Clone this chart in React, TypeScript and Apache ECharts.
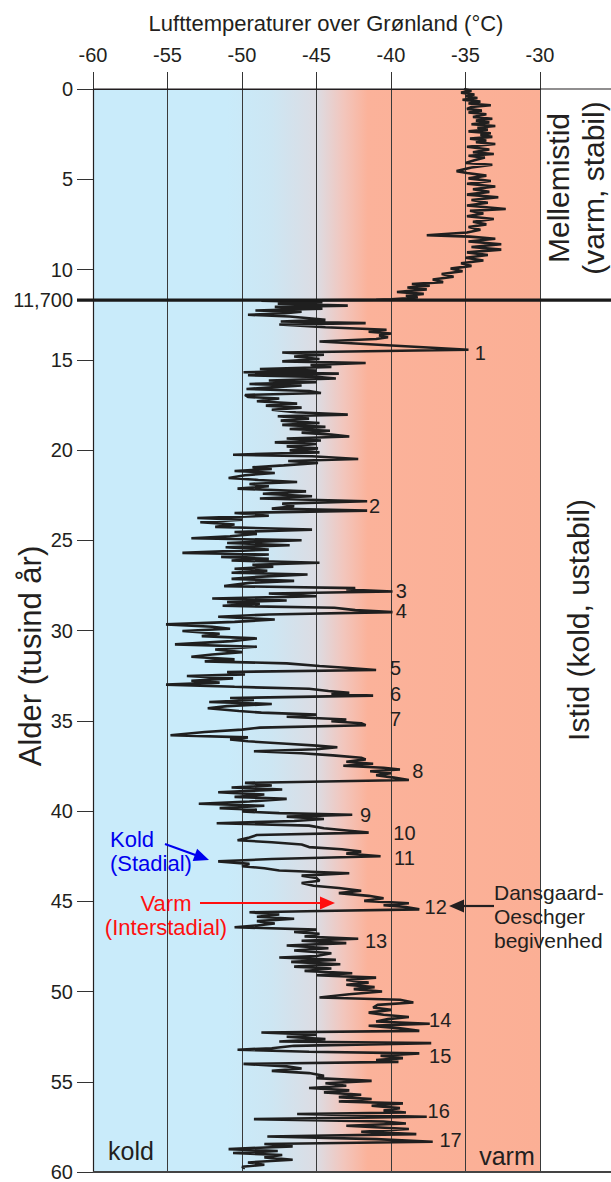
import React, { useEffect, useRef } from "react";
import * as echarts from "echarts";

// ---------- DATA (age in thousand years, temperature in °C) ----------
const xTickValues = [-60, -55, -50, -45, -40, -35, -30];
const yTickValues = [0, 5, 10, 15, 20, 25, 30, 35, 40, 45, 50, 55, 60];
const boundaryAge = 11.7;
const boundaryLabel = "11,700";

const holocene: [number, number][] = [
  [0.0, -35.1], [0.1, -34.6], [0.2, -35.3], [0.3, -34.4], [0.4, -35.0], [0.5, -34.2], [0.6, -35.2], [0.7, -34.0],
  [0.8, -34.8], [0.9, -33.3], [1.0, -34.6], [1.1, -34.9], [1.2, -33.9], [1.3, -34.8], [1.4, -33.6], [1.55, -34.5],
  [1.65, -33.2], [1.75, -34.3], [1.85, -33.4], [1.95, -34.6], [2.05, -33.0], [2.15, -34.2], [2.25, -33.5], [2.35, -34.8],
  [2.45, -33.3], [2.55, -34.0], [2.65, -33.2], [2.75, -34.7], [2.85, -33.6], [2.95, -34.3], [3.05, -33.0], [3.2, -34.9],
  [3.35, -33.4], [3.5, -34.5], [3.6, -33.1], [3.7, -34.8], [3.8, -33.7], [3.95, -34.4], [4.1, -35.0], [4.2, -33.2],
  [4.35, -34.6], [4.55, -35.6], [4.65, -34.9], [4.8, -33.6], [4.95, -34.8], [5.1, -33.3], [5.25, -34.9], [5.4, -33.0],
  [5.55, -34.5], [5.7, -33.4], [5.85, -34.9], [6.0, -32.8], [6.15, -34.6], [6.3, -33.5], [6.45, -34.9], [6.65, -32.3],
  [6.75, -34.7], [6.9, -33.8], [7.05, -34.9], [7.2, -33.1], [7.35, -34.5], [7.5, -33.6], [7.65, -34.8], [7.8, -34.0],
  [7.95, -34.9], [8.1, -37.6], [8.18, -34.7], [8.3, -33.0], [8.45, -34.8], [8.6, -32.6], [8.75, -34.6], [8.9, -32.6],
  [9.05, -34.9], [9.2, -33.5], [9.35, -35.0], [9.5, -33.8], [9.65, -35.3], [9.8, -34.6], [9.95, -36.0], [10.1, -35.2],
  [10.25, -36.6], [10.4, -35.8], [10.55, -37.2], [10.7, -36.5], [10.8, -38.6], [10.9, -37.4], [11.0, -38.9], [11.1, -37.6],
  [11.25, -39.6], [11.35, -37.8], [11.45, -39.0], [11.55, -38.2], [11.65, -40.0],
];

const deglacial: [number, number][] = [
  [11.68, -41.0], [11.73, -48.7], [11.81, -44.6], [11.9, -47.6], [12.0, -42.9], [12.07, -47.8], [12.17, -44.6], [12.27, -49.1],
  [12.34, -46.0], [12.42, -47.1], [12.51, -49.6], [12.6, -46.8], [12.7, -45.5], [12.79, -44.4], [12.88, -47.4], [12.97, -41.7],
  [13.05, -47.5], [13.2, -44.4], [13.34, -40.3], [13.45, -41.5], [13.55, -40.0], [13.65, -40.8], [13.75, -40.2], [13.85, -41.0],
  [13.99, -44.8], [14.45, -34.8], [14.6, -47.3], [14.72, -44.5], [14.82, -46.5], [14.96, -44.8], [15.09, -47.3], [15.18, -41.7],
  [15.29, -45.4], [15.4, -44.0], [15.51, -48.8], [15.6, -45.0], [15.69, -49.9], [15.77, -43.5], [15.86, -49.6], [15.95, -45.0],
  [16.04, -43.7], [16.15, -48.2], [16.25, -45.0], [16.34, -49.5], [16.43, -46.0], [16.53, -48.0], [16.62, -49.7], [16.73, -45.5],
  [16.84, -44.7], [16.95, -49.8], [17.06, -49.6], [17.15, -47.5], [17.3, -49.0], [17.43, -46.3], [17.54, -48.4], [17.65, -46.0],
  [17.77, -48.0], [17.91, -46.4], [18.04, -42.9], [18.13, -47.6], [18.26, -45.5], [18.37, -47.4], [18.5, -44.8], [18.61, -47.3],
  [18.72, -44.4], [18.84, -46.8], [18.93, -44.1], [19.04, -46.0], [19.15, -44.0], [19.25, -42.8], [19.36, -47.0], [19.47, -44.7],
  [19.58, -47.8], [19.67, -45.0], [19.8, -47.0], [19.91, -44.9], [20.02, -46.8], [20.13, -44.8], [20.26, -50.6], [20.35, -45.3],
  [20.5, -42.2], [20.61, -46.9], [20.72, -44.9], [20.85, -47.2], [20.96, -49.3], [21.05, -48.0], [21.16, -50.5], [21.27, -47.8],
  [21.4, -49.8], [21.55, -50.9], [21.66, -48.9], [21.77, -46.3], [21.88, -49.5], [22.01, -48.2], [22.14, -50.3], [22.29, -45.7],
  [22.42, -48.6], [22.56, -45.3], [22.69, -48.8], [22.84, -41.6], [22.97, -47.3], [23.12, -46.5], [23.25, -48.0], [23.36, -41.6],
  [23.49, -50.5], [23.64, -48.2], [23.77, -53.0], [23.86, -50.0], [24.0, -52.8], [24.13, -50.5], [24.26, -51.8], [24.41, -45.3],
  [24.54, -50.5], [24.65, -49.0], [24.78, -50.8], [24.89, -53.4], [25.0, -46.0], [25.15, -51.0], [25.28, -46.8], [25.39, -51.1],
  [25.52, -48.2],
];

const glacialMid: [number, number][] = [
  [25.7, -54.0], [25.79, -48.2], [25.92, -51.4], [26.03, -48.2], [26.12, -50.7], [26.25, -44.8], [26.36, -49.3], [26.47, -47.9],
  [26.58, -50.5], [26.69, -48.3], [26.8, -50.7], [26.9, -45.6], [27.03, -49.0], [27.14, -50.7], [27.25, -46.5], [27.36, -49.5],
  [27.54, -51.2], [27.65, -42.4], [27.73, -43.0], [27.84, -39.9], [27.95, -48.2], [28.1, -45.0], [28.23, -52.0], [28.34, -47.0],
  [28.43, -51.0], [28.52, -48.8], [28.63, -51.3], [28.74, -43.8], [28.87, -42.4], [28.98, -39.9], [29.11, -48.2], [29.24, -51.6],
  [29.39, -47.8], [29.52, -50.5], [29.66, -55.1], [29.79, -52.0], [29.9, -50.8], [30.03, -54.0], [30.18, -51.5], [30.31, -52.7],
  [30.44, -49.0], [30.59, -50.7], [30.77, -54.5], [30.9, -49.0], [31.05, -51.8], [31.2, -50.0], [31.33, -52.0], [31.45, -53.4],
  [31.6, -50.5], [31.71, -52.5], [31.82, -47.0], [31.97, -44.8], [32.08, -42.8], [32.19, -41.0], [32.3, -51.0], [32.43, -49.8],
  [32.52, -53.7], [32.65, -50.6], [32.78, -53.4], [32.89, -51.5], [33.0, -55.1], [33.12, -50.5], [33.23, -45.5], [33.35, -44.2],
  [33.45, -42.8], [33.52, -44.0], [33.61, -41.2], [33.74, -50.8], [33.85, -49.2], [33.96, -52.2], [34.07, -48.0], [34.19, -51.0],
  [34.31, -52.3], [34.46, -50.2], [34.55, -48.7], [34.66, -45.0], [34.78, -47.0], [34.93, -43.0], [35.03, -44.0], [35.14, -42.0],
  [35.25, -41.7], [35.38, -48.8], [35.49, -50.0], [35.62, -52.5], [35.8, -54.8], [35.92, -49.6], [36.03, -50.8], [36.14, -49.6],
  [36.27, -47.0], [36.38, -45.0], [36.47, -43.6], [36.58, -45.0], [36.69, -49.2], [36.8, -46.0], [36.92, -43.9], [37.05, -42.0],
  [37.14, -41.7], [37.27, -43.0], [37.38, -41.2], [37.49, -43.2], [37.6, -40.5], [37.7, -39.4], [37.8, -41.4], [37.91, -40.0],
  [38.02, -41.0], [38.15, -39.8], [38.28, -38.8],
];

const glacialLate: [number, number][] = [
  [38.44, -49.8], [38.59, -48.0], [38.7, -50.7], [38.81, -47.3], [38.96, -51.6], [39.09, -48.5], [39.22, -50.5], [39.33, -47.0],
  [39.47, -49.5], [39.6, -52.9], [39.71, -48.5], [39.84, -51.5], [39.93, -49.0], [40.03, -50.0], [40.12, -47.5], [40.21, -42.6],
  [40.31, -47.0], [40.44, -44.5], [40.55, -46.5], [40.68, -51.7], [40.81, -45.5], [40.96, -44.5], [41.09, -42.8], [41.2, -41.5],
  [41.33, -49.0], [41.47, -49.5], [41.62, -50.3], [41.73, -48.0], [41.86, -46.0], [42.0, -45.5], [42.12, -43.3], [42.25, -42.0],
  [42.36, -43.0], [42.51, -40.7], [42.66, -48.0], [42.79, -51.6], [42.93, -49.5], [43.06, -50.0], [43.17, -48.5], [43.3, -47.5],
  [43.45, -42.8], [43.58, -46.0], [43.71, -45.0], [43.86, -44.8], [43.99, -46.0], [44.14, -45.2], [44.27, -43.5], [44.42, -42.0],
  [44.55, -43.5], [44.7, -41.5], [44.83, -40.5], [44.98, -41.8], [45.11, -38.8], [45.22, -40.5], [45.32, -39.0], [45.45, -38.1],
  [45.54, -44.8], [45.61, -49.5], [45.73, -47.5], [45.86, -49.0], [45.97, -46.5], [46.1, -49.0], [46.23, -47.8], [46.34, -49.0],
  [46.44, -50.5], [46.57, -45.0], [46.7, -46.5], [46.81, -44.8], [46.95, -45.8], [47.08, -42.2], [47.19, -46.0], [47.32, -43.0],
  [47.45, -47.0], [47.6, -44.2], [47.73, -46.5], [47.88, -44.0],
];

const glacialEarly: [number, number][] = [
  [48.03, -45.0], [48.12, -47.5], [48.25, -43.7], [48.36, -46.7], [48.49, -43.4], [48.62, -46.5], [48.73, -44.0], [48.86, -45.8],
  [48.99, -42.6], [49.1, -45.0], [49.23, -41.0], [49.36, -43.0], [49.51, -41.5], [49.63, -43.0], [49.76, -41.1], [49.87, -42.5],
  [50.0, -40.6], [50.15, -42.8], [50.33, -44.8], [50.46, -39.4], [50.61, -38.5], [50.74, -40.9], [50.89, -41.2], [51.02, -40.0],
  [51.17, -41.5], [51.29, -40.5], [51.41, -38.8], [51.53, -40.2], [51.66, -41.0], [51.79, -37.4], [51.9, -41.5], [52.03, -39.5],
  [52.18, -38.1], [52.27, -48.7], [52.4, -45.0], [52.51, -47.0], [52.64, -44.4], [52.77, -47.5], [52.86, -37.3], [53.01, -46.5],
  [53.14, -48.0], [53.23, -50.3], [53.34, -45.5], [53.43, -38.1], [53.56, -40.7], [53.69, -39.2], [53.8, -41.0], [53.9, -39.5],
  [54.01, -49.9], [54.15, -47.0], [54.27, -46.0], [54.4, -48.0], [54.52, -45.5], [54.67, -44.5], [54.8, -45.0], [54.95, -41.3],
  [55.08, -44.4], [55.22, -43.0], [55.35, -45.5], [55.48, -42.8], [55.59, -44.5], [55.72, -42.0], [55.85, -43.5], [55.96, -41.3],
  [56.09, -43.5], [56.2, -39.2], [56.33, -41.3], [56.46, -39.4], [56.59, -40.5], [56.7, -39.0], [56.79, -46.3], [56.94, -37.6],
  [57.07, -49.2], [57.2, -40.5], [57.31, -39.0], [57.44, -43.0], [57.62, -38.8], [57.77, -42.0], [57.9, -38.3], [58.03, -48.3],
  [58.18, -41.0], [58.32, -37.2], [58.45, -48.5], [58.58, -46.6], [58.73, -50.9], [58.84, -47.6], [58.95, -50.6], [59.06, -47.3],
  [59.19, -48.5], [59.32, -46.6], [59.47, -49.6], [59.6, -48.5], [59.71, -50.0], [59.8, -49.8],
];

// Dansgaard-Oeschger event numbers and where their labels sit (temp, age)
const eventNumbers = ["1", "2", "3", "4", "5", "6", "7", "8", "9", "10", "11", "12", "13", "14", "15", "16", "17"];
const eventLabelTemps = [-34.0, -41.1, -39.3, -39.3, -39.7, -39.7, -39.7, -38.2, -41.7, -39.1, -39.1, -37.0, -41.0, -36.7, -36.7, -36.8, -36.0];
const eventLabelAges = [14.6, 23.1, 27.8, 28.9, 32.1, 33.5, 34.9, 37.8, 40.2, 41.2, 42.6, 45.3, 47.2, 51.6, 53.6, 56.6, 58.2];

const FONT = '"Liberation Sans", Arial, Helvetica, sans-serif';
const INK = "#231f20";

function arrow(x1: number, y1: number, x2: number, y2: number, color: string) {
  const dx = x2 - x1, dy = y2 - y1;
  const len = Math.hypot(dx, dy);
  const ux = dx / len, uy = dy / len;
  const hl = 15, hw = 6.5;
  const bx = x2 - ux * hl, by = y2 - uy * hl;
  return [
    { type: "line", z: 100, shape: { x1, y1, x2: bx + ux * 2, y2: by + uy * 2 }, style: { stroke: color, lineWidth: 2.2 } },
    {
      type: "polygon", z: 100,
      shape: { points: [[x2, y2], [bx - uy * hw, by + ux * hw], [bx + uy * hw, by - ux * hw]] },
      style: { fill: color },
    },
  ];
}

export default function App() {
  const ref = useRef<HTMLDivElement>(null);

  useEffect(() => {
    document.body.style.margin = "0";
    const chart = echarts.init(ref.current!, null, { renderer: "svg" });
    const all = [...holocene, ...deglacial, ...glacialMid, ...glacialLate, ...glacialEarly];
    const lineData = all.map(([age, temp]) => [temp, age]);

    const bg = new echarts.graphic.LinearGradient(0, 0, 1, 0, [
      { offset: 0, color: "#c9ebfa" },
      { offset: 0.3, color: "#c9ebfa" },
      { offset: 0.4, color: "#cde6f3" },
      { offset: 0.5, color: "#dcdce3" },
      { offset: 0.56, color: "#f2c6bd" },
      { offset: 0.615, color: "#fbb29a" },
      { offset: 1, color: "#fbaf95" },
    ]);

    chart.setOption({
      animation: false,
      textStyle: { fontFamily: FONT },
      grid: {
        left: 93, top: 89, right: 71, bottom: 9,
        show: true, backgroundColor: bg, borderWidth: 0,
      },
      xAxis: {
        type: "value", position: "top", min: -60, max: -30, interval: 5,
        axisLine: { show: true, lineStyle: { color: INK, width: 1.2 } },
        axisTick: { show: true, inside: false, length: 17, lineStyle: { color: "#333", width: 1 } },
        axisLabel: {
          fontSize: 20, color: INK, margin: 24, fontFamily: FONT,
          formatter: (v: number) => (xTickValues.includes(v) ? String(v) : ""),
        },
        splitLine: { show: true, lineStyle: { color: "#3a3a3a", width: 1 } },
      },
      yAxis: {
        type: "value", inverse: true, min: 0, max: 60, interval: 5,
        axisLine: { show: true, lineStyle: { color: INK, width: 1.2 } },
        axisTick: { show: true, inside: false, length: 16, lineStyle: { color: "#333", width: 1 } },
        axisLabel: {
          fontSize: 20, color: INK, margin: 20, fontFamily: FONT,
          formatter: (v: number) => (yTickValues.includes(v) ? String(v) : ""),
        },
        splitLine: { show: false },
      },
      series: [
        {
          type: "line", data: lineData, showSymbol: false, symbol: "none",
          lineStyle: { color: "#1f1f1f", width: 2.6 }, z: 5, silent: true,
        },
      ],
    });

    const P = (t: number, a: number) => chart.convertToPixel({ gridIndex: 0 }, [t, a]) as number[];
    const [xL, yTop] = P(-60, 0);
    const [, yBot] = P(-30, 60);
    const yB = P(-60, boundaryAge)[1];

    const txt = (text: string, x: number, y: number, size: number, extra: any = {}, el: any = {}) => ({
      type: "text", z: 100, x, y, ...el,
      style: { text, fontSize: size, fontFamily: FONT, fill: INK, align: "center", verticalAlign: "middle", ...extra },
    });

    const graphics: any[] = [
      { type: "line", z: 90, shape: { x1: xL, y1: yTop, x2: 615, y2: yTop }, style: { stroke: INK, lineWidth: 1.2 } },
      { type: "line", z: 90, shape: { x1: xL, y1: yBot, x2: 615, y2: yBot }, style: { stroke: "#444", lineWidth: 2 } },
      { type: "line", z: 90, shape: { x1: 77, y1: yB, x2: 615, y2: yB }, style: { stroke: "#1a1a1a", lineWidth: 3.2 } },
      txt(boundaryLabel, 73, yB, 20, { align: "right" }),
      txt("Lufttemperaturer over Grønland (°C)", 326, 23, 22),
      txt("Alder (tusind år)", 30, 656, 31, {}, { rotation: Math.PI / 2 }),
      txt("Mellemistid\n(varm, stabil)", 576, 188, 30, { lineHeight: 35 }, { rotation: Math.PI / 2 }),
      txt("Istid (kold, ustabil)", 578, 620, 30, {}, { rotation: Math.PI / 2 }),
      txt("kold", 131, 1151, 25),
      txt("varm", 507, 1156, 25),
      txt("Kold\n(Stadial)", 110, 851, 22, { fill: "#0000ee", align: "left", lineHeight: 24 }),
      txt("Varm\n(Interstadial)", 166, 915, 22, { fill: "#ff1010", lineHeight: 24 }),
      txt("Dansgaard-\nOeschger\nbegivenhed", 494, 916, 21, { align: "left", lineHeight: 24 }),
      ...arrow(165, 844, 209, 860, "#0000ee"),
      ...arrow(200, 903, 335, 903, "#ff1010"),
      ...arrow(494, 906, 449, 906, INK),
    ];
    eventNumbers.forEach((n, i) => {
      const [x, y] = P(eventLabelTemps[i], eventLabelAges[i]);
      graphics.push(txt(n, x, y, 20));
    });

    chart.setOption({ graphic: graphics });
    return () => chart.dispose();
  }, []);

  return <div ref={ref} style={{ width: 611, height: 1182, position: "absolute", left: 0, top: 0 }} />;
}
